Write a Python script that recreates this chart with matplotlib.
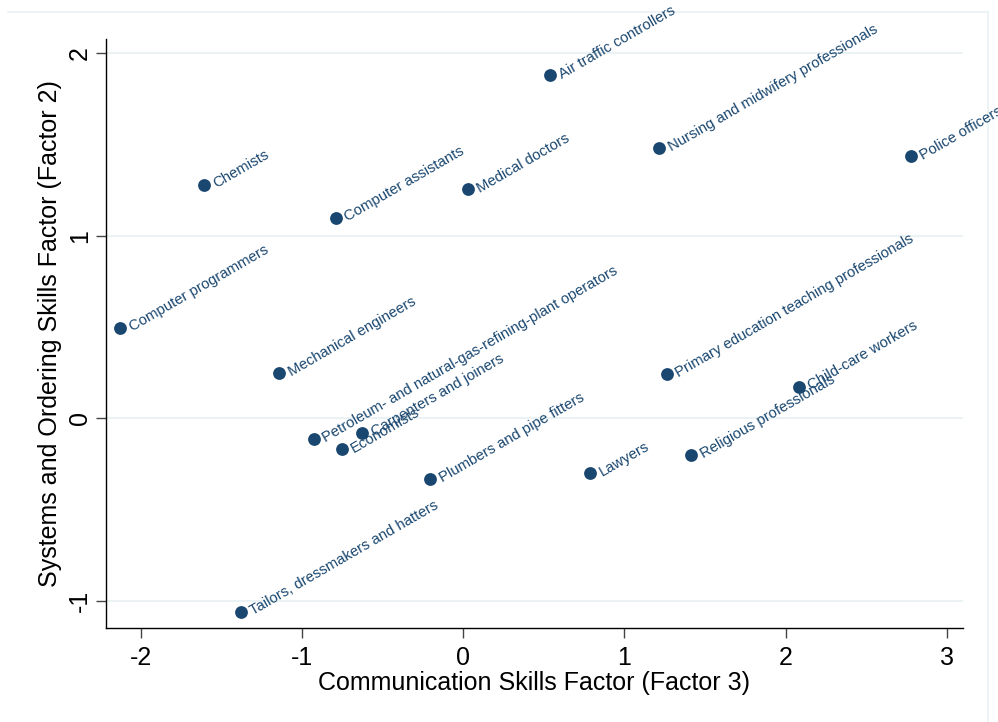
import matplotlib
matplotlib.use("Agg")
import matplotlib.pyplot as plt
from matplotlib.lines import Line2D

plt.rcParams['font.family'] = ['Liberation Sans', 'DejaVu Sans']

occupations = [
    "Chemists", "Computer assistants", "Medical doctors", "Air traffic controllers",
    "Nursing and midwifery professionals", "Police officers", "Computer programmers",
    "Mechanical engineers", "Petroleum- and natural-gas-refining-plant operators",
    "Carpenters and joiners", "Economists", "Plumbers and pipe fitters",
    "Primary education teaching professionals", "Child-care workers", "Lawyers",
    "Religious professionals", "Tailors, dressmakers and hatters",
]
communication = [-1.607, -0.790, 0.027, 0.536, 1.216, 2.779, -2.128, -1.141, -0.926,
                 -0.628, -0.751, -0.205, 1.262, 2.084, 0.788, 1.413, -1.381]
systems = [1.278, 1.096, 1.256, 1.879, 1.483, 1.436, 0.493, 0.250, -0.113,
           -0.082, -0.170, -0.333, 0.243, 0.172, -0.301, -0.199, -1.061]
xticks = [-2, -1, 0, 1, 2, 3]
yticks = [-1, 0, 1, 2]

navy = '#1a476f'
grid_c = '#eaf2f3'

fig = plt.figure(figsize=(9.98, 7.22), dpi=100)
ax = fig.add_axes([0.1059, 0.1306, 0.9646 - 0.1059, 0.946 - 0.1306])

# outer graph-region frame (top and right edges visible)
fig.add_artist(Line2D([8/998, 988/998], [1 - 12/722, 1 - 12/722], transform=fig.transFigure,
                      color=grid_c, lw=1.2, zorder=0))
fig.add_artist(Line2D([988/998, 988/998], [1 - 12/722, 0], transform=fig.transFigure,
                      color=grid_c, lw=1.2, zorder=0))

ax.set_xlim(-2.218, 3.098)
ax.set_ylim(-1.147, 2.078)
ax.set_xticks(xticks)
ax.set_yticks(yticks)
ax.set_xticklabels([str(t) for t in xticks])
ax.set_yticklabels([str(t) for t in yticks], rotation=90, va='center')

for t in yticks:
    ax.axhline(t, color=grid_c, lw=1.5, zorder=0)

ax.scatter(communication, systems, s=85, color=navy, zorder=3, linewidths=0)
for name, x, y in zip(occupations, communication, systems):
    ax.annotate(name, (x, y), xytext=(7.2, 0), textcoords='offset points',
                ha='left', va='center', rotation=30, rotation_mode='anchor',
                color=navy, fontsize=10.7, zorder=4, annotation_clip=False)

for s in ['top', 'right']:
    ax.spines[s].set_visible(False)
for s in ['left', 'bottom']:
    ax.spines[s].set_color('#000000')
    ax.spines[s].set_linewidth(1.0)
ax.tick_params(axis='both', direction='out', length=7, width=1.0, color='#444444',
               labelsize=18, pad=3)
ax.tick_params(axis='x', pad=6)

ax.set_xlabel("Communication Skills Factor (Factor 3)", fontsize=18, labelpad=1)
ax.set_ylabel("Systems and Ordering Skills Factor (Factor 2)", fontsize=18, labelpad=4)

fig.savefig("out.png", dpi=100)
